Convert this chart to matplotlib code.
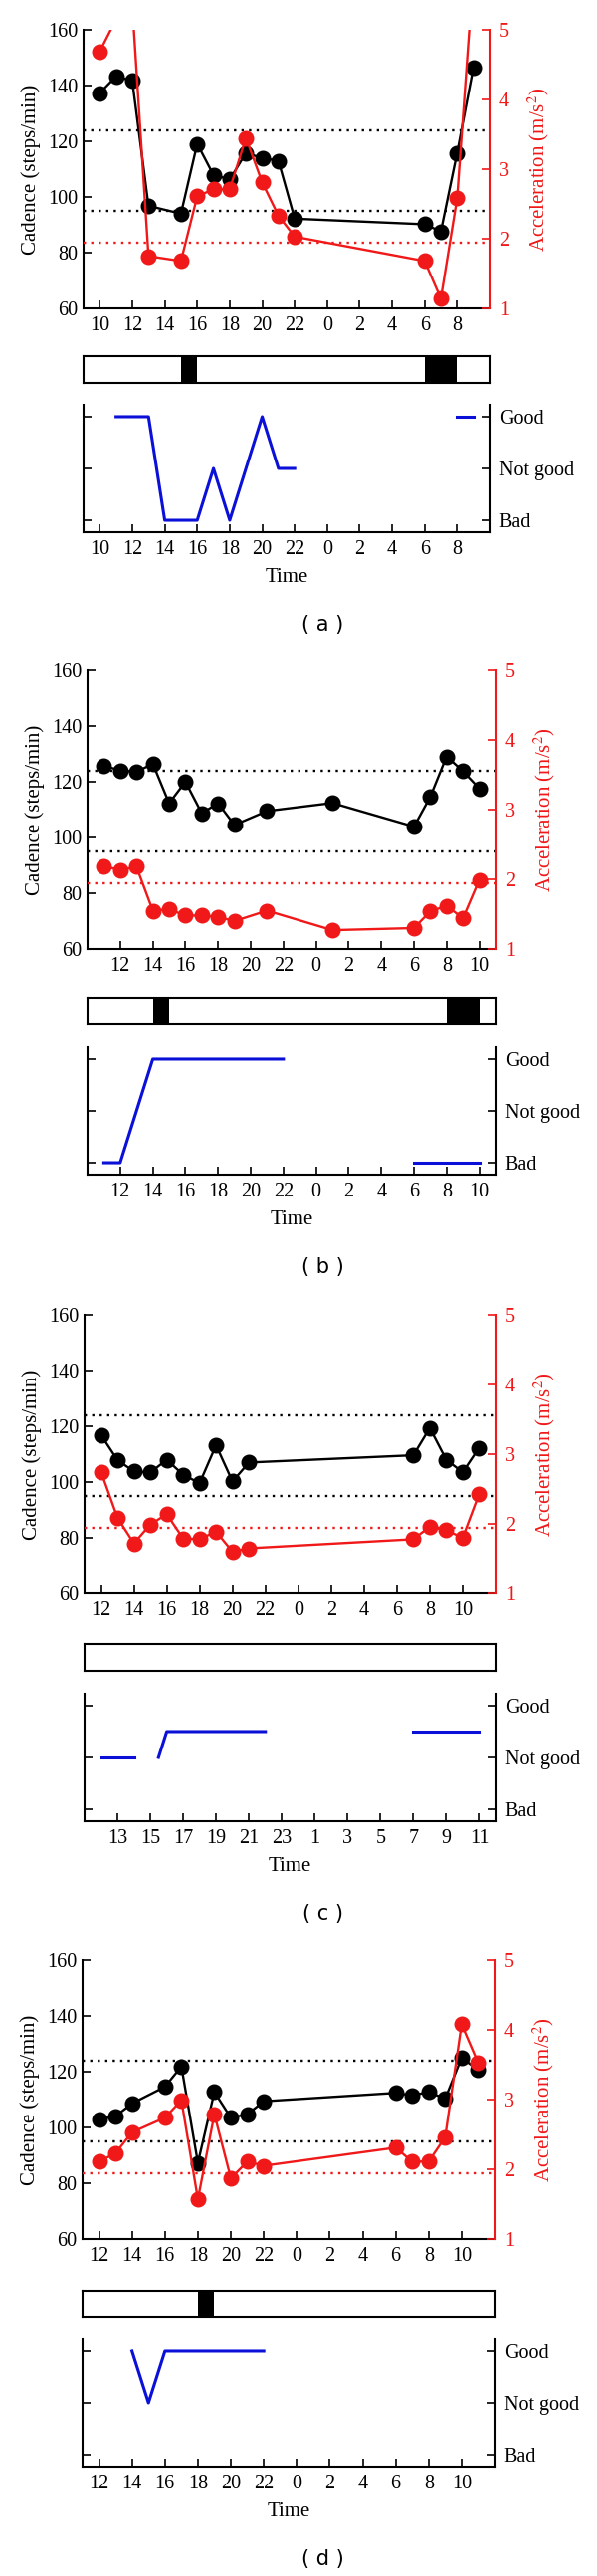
import numpy as np
import matplotlib.pyplot as plt

plt.rcParams["font.family"] = ["Liberation Serif", "DejaVu Serif"]
plt.rcParams["font.size"] = 14.5
plt.rcParams["mathtext.fontset"] = "stix"

W, H = 600, 2590
RED = "#f01818"
BLUE = "#0a10d8"

CAD_HI, CAD_LO, ACC_REF = 124, 95, 1.95
RATING_LABELS = ["Bad", "Not good", "Good"]

# (a)
a_hours = [10, 11, 12, 13, 15, 16, 17, 18, 19, 20, 21, 22, 6, 7, 8, 9]
a_cadence = [137.3, 143.3, 141.7, 96.8, 94.0, 119.1, 107.9, 106.3, 115.8, 114.0, 113.0, 92.2, 90.2, 87.6, 115.8, 146.3]
a_accel = [4.69, 5.15, 5.35, 1.75, 1.68, 2.61, 2.71, 2.71, 3.45, 2.81, 2.33, 2.03, 1.68, 1.14, 2.58, 5.8]
a_dark = [(15, 16), (6, 8)]
a_rating_t = [[11, 13, 14, 16, 17, 18, 20, 21, 22], [8, 9]]
a_rating = [[2, 2, 0, 0, 1, 0, 2, 1, 1], [2, 2]]

# (b)
b_hours = [11, 12, 13, 14, 15, 16, 17, 18, 19, 21, 1, 6, 7, 8, 9, 10]
b_cadence = [125.7, 124.1, 123.5, 126.5, 112.3, 120.0, 108.7, 112.3, 104.5, 109.5, 112.4, 103.9, 114.6, 129.1, 123.8, 117.6]
b_accel = [2.19, 2.13, 2.18, 1.55, 1.57, 1.48, 1.48, 1.46, 1.40, 1.55, 1.27, 1.30, 1.54, 1.62, 1.44, 1.99]
b_dark = [(14, 15), (8, 10)]
b_rating_t = [[11, 12, 14, 22], [6, 10]]
b_rating = [[0, 0, 2, 2], [0, 0]]

# (c)
c_hours = [12, 13, 14, 15, 16, 17, 18, 19, 20, 21, 7, 8, 9, 10, 11]
c_cadence = [116.9, 107.9, 103.8, 103.4, 108.0, 102.6, 99.6, 113.2, 100.2, 107.0, 109.6, 119.4, 108.0, 103.5, 112.3]
c_accel = [2.75, 2.09, 1.72, 1.99, 2.14, 1.79, 1.78, 1.89, 1.60, 1.65, 1.78, 1.96, 1.91, 1.80, 2.43]
c_dark = []
c_rating_t = [[12, 14], [15.5, 16, 22], [7, 11]]
c_rating = [[1, 1], [1, 1.5, 1.5], [1.5, 1.5]]

# (d)
d_hours = [12, 13, 14, 16, 17, 18, 19, 20, 21, 22, 6, 7, 8, 9, 10, 11]
d_cadence = [102.9, 104.0, 108.6, 114.6, 121.9, 87.3, 112.7, 103.5, 104.7, 109.4, 112.4, 111.5, 112.7, 110.3, 125.0, 120.6]
d_accel = [2.11, 2.23, 2.53, 2.74, 2.99, 1.57, 2.79, 1.87, 2.11, 2.05, 2.31, 2.11, 2.11, 2.46, 4.08, 3.53]
d_dark = [(18, 19)]
d_rating_t = [[14, 15, 16, 22]]
d_rating = [[2, 1, 2, 2]]


def box(l, r, t, b):
    return [l / W, 1 - b / H, (r - l) / W, (b - t) / H]


def unwrap(hours, start):
    # clock hours after midnight belong to the next day
    return [h + 24 if h < start + 1 else h for h in hours]


def time_ticks(ax, start, parity=0):
    ticks = [t for t in range(start + 1, start + 25) if t % 2 == parity]
    ax.set_xticks(ticks)
    ax.set_xticklabels([str(t % 24) for t in ticks])
    ax.set_xlim(start, start + 25)
    ax.tick_params(axis="x", direction="in", length=6, width=1.2, pad=6)


def draw_panel(fig, tag, start, lr, tops, hours, cadence, accel, dark,
               rating_t, rating, bottom_parity=0):
    l, r = lr
    t0, t1, t2 = tops

    # cadence + acceleration
    ax = fig.add_axes(box(l, r, t0, t0 + 280))
    x = unwrap(hours, start)
    ax.axhline(CAD_HI, color="black", ls=(0, (1, 2.2)), lw=1.7)
    ax.axhline(CAD_LO, color="black", ls=(0, (1, 2.2)), lw=1.7)
    ax.plot(x, cadence, "-o", color="black", lw=1.7, ms=10.5)
    ax.set_ylim(60, 160)
    ax.set_yticks(range(60, 161, 20))
    ax.set_ylabel("Cadence (steps/min)", labelpad=5, fontsize=15)
    time_ticks(ax, start)
    ax.tick_params(axis="y", direction="in", length=6, width=1.2, pad=4)
    for s in ["top", "right"]:
        ax.spines[s].set_visible(False)
    for s in ["left", "bottom"]:
        ax.spines[s].set_linewidth(1.5)

    ax2 = ax.twinx()
    ax2.axhline(ACC_REF, color=RED, ls=(0, (1, 2.2)), lw=1.7)
    ax2.plot(x, accel, "-o", color=RED, lw=1.7, ms=10.5)
    ax2.set_ylim(1, 5)
    ax2.set_yticks(range(1, 6))
    ax2.set_ylabel("Acceleration (m/s$^2$)", color=RED, labelpad=12,
                   fontsize=15)
    ax2.tick_params(axis="y", direction="in", length=6, width=1.2, pad=7,
                    colors=RED)
    for s in ["top", "left", "bottom"]:
        ax2.spines[s].set_visible(False)
    ax2.spines["right"].set_color(RED)
    ax2.spines["right"].set_linewidth(1.5)

    # activity strip
    axs = fig.add_axes(box(l, r, t1, t1 + 27))
    for a, b in dark:
        a2, b2 = unwrap([a, b], start)
        axs.axvspan(a2, b2, color="black", lw=0)
    axs.set_xlim(start, start + 25)
    axs.set_ylim(0, 1)
    axs.set_xticks([])
    axs.set_yticks([])
    for s in axs.spines.values():
        s.set_linewidth(1.5)

    # self rating
    axr = fig.add_axes(box(l, r, t2, t2 + 128))
    for ts, vs in zip(rating_t, rating):
        axr.plot(unwrap(ts, start), vs, color=BLUE, lw=2.2)
    axr.set_ylim(-0.23, 2.23)
    axr.set_yticks([0, 1, 2])
    axr.set_yticklabels(RATING_LABELS)
    axr.yaxis.set_ticks_position("both")
    axr.tick_params(axis="y", direction="in", length=6, width=1.2,
                    labelleft=False, labelright=True, pad=7)
    time_ticks(axr, start, bottom_parity)
    axr.set_xlabel("Time", labelpad=6, fontsize=15)
    axr.spines["top"].set_visible(False)
    for s in ["left", "right", "bottom"]:
        axr.spines[s].set_linewidth(1.5)

    fig.text(324 / W, 1 - (t2 + 221) / H, "( %s )" % tag, ha="center",
             va="center", family="DejaVu Sans", fontsize=15)


fig = plt.figure(figsize=(6, 25.9), dpi=100)

draw_panel(fig, "a", 9, (84, 492), (30, 358, 407),
           a_hours, a_cadence, a_accel, a_dark, a_rating_t, a_rating)
draw_panel(fig, "b", 10, (88, 498), (674, 1003, 1053),
           b_hours, b_cadence, b_accel, b_dark, b_rating_t, b_rating)
draw_panel(fig, "c", 11, (85, 498), (1322, 1653, 1703),
           c_hours, c_cadence, c_accel, c_dark, c_rating_t, c_rating,
           bottom_parity=1)
draw_panel(fig, "d", 11, (83, 497), (1971, 2303, 2352),
           d_hours, d_cadence, d_accel, d_dark, d_rating_t, d_rating)

fig.savefig("out.png", dpi=100)
